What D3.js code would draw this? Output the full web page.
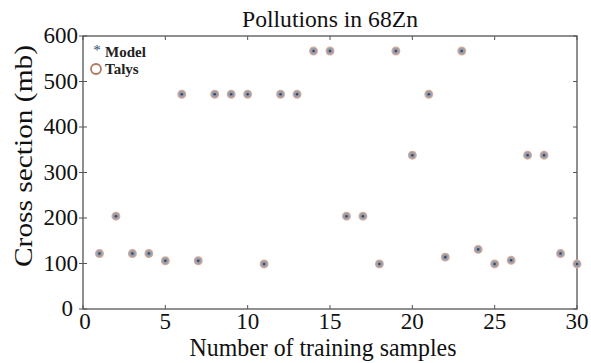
<!DOCTYPE html>
<html><head><meta charset="utf-8">
<script src="https://cdn.jsdelivr.net/npm/d3@7"></script>
<style>body{margin:0;background:#fff}svg{display:block}</style>
</head><body>
<script>
const samples = d3.range(1, 31);
const modelValues = [122,204,122,122,106,472,106,472,472,472,99,472,472,567,567,204,204,99,567,338,472,114,567,131,99,107,338,338,122,99];
const talysValues = [122,204,122,122,106,472,106,472,472,472,99,472,472,567,567,204,204,99,567,338,472,114,567,131,99,107,338,338,122,99];
const xTicks = [0,5,10,15,20,25,30];
const yTicks = [0,100,200,300,400,500,600];

const W = 591, H = 363;
const m = {l:83, r:14, t:36, b:54};
const svg = d3.select("body").append("svg").attr("width", W).attr("height", H);
const x = d3.scaleLinear().domain([0,30]).range([m.l, W - m.r]);
const y = d3.scaleLinear().domain([0,600]).range([H - m.b, m.t]);
const font = "'Liberation Serif', 'DejaVu Serif', serif";
const axisColor = "#555";

svg.append("rect").attr("x", x(0)).attr("y", y(600)).attr("width", x(30)-x(0)).attr("height", y(0)-y(600))
  .attr("fill","none").attr("stroke",axisColor).attr("stroke-width",1.3);

const g = svg.append("g");
xTicks.forEach(t => {
  g.append("line").attr("x1",x(t)).attr("x2",x(t)).attr("y1",y(0)).attr("y2",y(0)-4).attr("stroke",axisColor);
  g.append("line").attr("x1",x(t)).attr("x2",x(t)).attr("y1",y(600)).attr("y2",y(600)+4).attr("stroke",axisColor);
  g.append("text").attr("x",x(t) + (t===0?2:0)).attr("y",y(0)+20).attr("text-anchor","middle")
    .style("font-family",font).attr("font-size",23).attr("fill","#111").text(t);
});
yTicks.forEach(t => {
  g.append("line").attr("x1",x(0)-4).attr("x2",x(0)+4).attr("y1",y(t)).attr("y2",y(t)).attr("stroke",axisColor);
  g.append("line").attr("x1",x(30)).attr("x2",x(30)-4).attr("y1",y(t)).attr("y2",y(t)).attr("stroke",axisColor);
  g.append("text").attr("x",x(0)-(t===0?10:5)).attr("y",y(t)+7).attr("text-anchor","end")
    .style("font-family",font).attr("font-size",23).attr("fill","#111").text(t);
});

svg.append("text").attr("x",330).attr("y",27).attr("text-anchor","middle")
  .attr("textLength",176).attr("lengthAdjust","spacingAndGlyphs")
  .style("font-family",font).attr("font-size",23).attr("fill","#111").text("Pollutions in 68Zn");
svg.append("text").attr("x",323).attr("y",356).attr("text-anchor","middle")
  .attr("textLength",267).attr("lengthAdjust","spacingAndGlyphs")
  .style("font-family",font).attr("font-size",25).attr("fill","#111").text("Number of training samples");
svg.append("text").attr("transform",`translate(32,156) rotate(-90)`).attr("text-anchor","middle")
  .attr("textLength",222).attr("lengthAdjust","spacingAndGlyphs")
  .style("font-family",font).attr("font-size",25).attr("fill","#111").text("Cross section (mb)");

svg.append("g").selectAll("circle").data(samples).join("circle")
  .attr("cx", (d) => x(d)).attr("cy", (d,i) => y(talysValues[i])).attr("r", 3.8)
  .attr("fill","#9a9ca6").attr("stroke","#d2aa9c").attr("stroke-width",1.3);
svg.append("g").selectAll("circle").data(samples).join("circle")
  .attr("cx", (d) => x(d)).attr("cy", (d,i) => y(modelValues[i])).attr("r", 1.3)
  .attr("fill","#2c4a72");

svg.append("text").attr("x",97).attr("y",55).attr("text-anchor","middle")
  .style("font-family",font).attr("font-size",15).attr("fill","#2c4a72").text("*");
svg.append("text").attr("x",105).attr("y",57).style("font-family",font).attr("font-size",15)
  .attr("font-weight","bold").attr("fill","#222").text("Model");
svg.append("circle").attr("cx",96).attr("cy",69).attr("r",5).attr("fill","none").attr("stroke","#b0785e").attr("stroke-width",1.8);
svg.append("text").attr("x",105).attr("y",74).style("font-family",font).attr("font-size",15)
  .attr("font-weight","bold").attr("fill","#222").text("Talys");
</script>
</body></html>
